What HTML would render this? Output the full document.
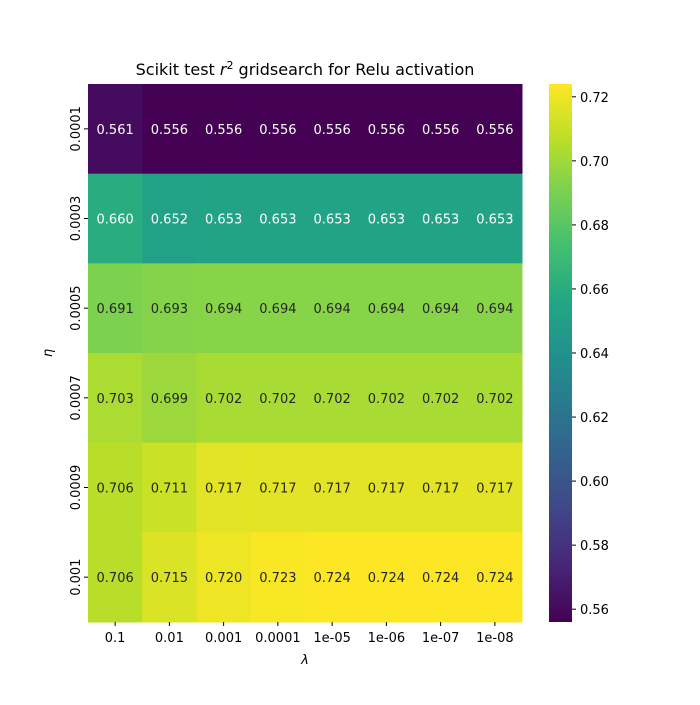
<!DOCTYPE html>
<html><head><meta charset="utf-8"><style>
html,body{margin:0;padding:0;background:#fff;}
svg text{font-family:"DejaVu Sans","Liberation Sans",sans-serif;}
</style></head><body>
<svg id="chart" width="700" height="700" viewBox="0 0 700 700" xmlns="http://www.w3.org/2000/svg">
<defs>
<linearGradient id="vir" x1="0" y1="1" x2="0" y2="0">
<stop offset="0" stop-color="#440154"/><stop offset="0.1" stop-color="#482475"/><stop offset="0.2" stop-color="#414487"/><stop offset="0.3" stop-color="#355f8d"/><stop offset="0.4" stop-color="#2a788e"/><stop offset="0.5" stop-color="#21918c"/><stop offset="0.6" stop-color="#22a884"/><stop offset="0.7" stop-color="#44bf70"/><stop offset="0.8" stop-color="#7ad151"/><stop offset="0.9" stop-color="#bddf26"/><stop offset="1" stop-color="#fde725"/>
</linearGradient>
</defs>
<text x="305" y="75" font-size="16" text-anchor="middle">Scikit test <tspan font-style="italic">r</tspan><tspan font-size="11" dy="-6">2</tspan><tspan dy="6"> gridsearch for Relu activation</tspan></text>
<g id="cells"></g>
<g id="xticks"></g>
<g id="yticks"></g>
<text x="305" y="664" font-size="13" font-style="italic" text-anchor="middle">λ</text>
<text x="52" y="353" font-size="13" font-style="italic" text-anchor="middle" transform="rotate(-90 52 353)">η</text>
<rect x="549" y="84" width="23" height="538" fill="url(#vir)"/>
<g id="cbticks"></g>
</svg>
<script>
const xLabels = ["0.1","0.01","0.001","0.0001","1e-05","1e-06","1e-07","1e-08"];
const yLabels = ["0.0001","0.0003","0.0005","0.0007","0.0009","0.001"];
const values = [
 [0.561,0.556,0.556,0.556,0.556,0.556,0.556,0.556],
 [0.660,0.652,0.653,0.653,0.653,0.653,0.653,0.653],
 [0.691,0.693,0.694,0.694,0.694,0.694,0.694,0.694],
 [0.703,0.699,0.702,0.702,0.702,0.702,0.702,0.702],
 [0.706,0.711,0.717,0.717,0.717,0.717,0.717,0.717],
 [0.706,0.715,0.720,0.723,0.724,0.724,0.724,0.724]
];
const cbTicks = [0.56,0.58,0.60,0.62,0.64,0.66,0.68,0.70,0.72];

const NS="http://www.w3.org/2000/svg";
const L=88,R=522,T=84,B=622;
const all=values.flat();
const vmin=Math.min(...all), vmax=Math.max(...all);
const cw=(R-L)/xLabels.length, ch=(B-T)/yLabels.length;
const xPos=i=>L+i*cw, yPos=j=>T+j*ch;
const cbY=v=>B-(v-vmin)/(vmax-vmin)*(B-T);
const stops=["#440154","#482475","#414487","#355f8d","#2a788e","#21918c","#22a884","#44bf70","#7ad151","#bddf26","#fde725"].map(h=>[1,3,5].map(k=>parseInt(h.substr(k,2),16)));
function vir(v){let t=Math.max(0,Math.min(1,(v-vmin)/(vmax-vmin)))*10;let i=Math.min(9,Math.floor(t)),f=t-i;
 return stops[i].map((c,k)=>Math.round(c+(stops[i+1][k]-c)*f));}
function lum(c){const s=c.map(x=>{x/=255;return x<=0.03928?x/12.92:Math.pow((x+0.055)/1.055,2.4)});return 0.2126*s[0]+0.7152*s[1]+0.0722*s[2];}
function mk(tag,attrs,parent){const e=document.createElementNS(NS,tag);for(const k in attrs)e.setAttribute(k,attrs[k]);parent.appendChild(e);return e;}
const cells=document.getElementById('cells');
values.forEach((row,j)=>row.forEach((v,i)=>{
 const c=vir(v);
 const r=mk('rect',{x:xPos(i),y:yPos(j),width:cw+0.5,height:ch+0.5,fill:`rgb(${c})`},cells);
 
 
 const t=mk('text',{x:xPos(i)+cw/2,y:yPos(j)+ch/2+5,'font-size':13,'text-anchor':'middle',fill:lum(c)<0.408?'#fff':'#262626'},cells);
 t.textContent=v.toFixed(3);
 
 
}));
const xt=document.getElementById('xticks');
xLabels.forEach((s,i)=>{const x=xPos(i)+cw/2;
 mk('line',{x1:x,x2:x,y1:B,y2:B+4,stroke:'#000'},xt);
 const t=mk('text',{x:x,y:B+20,'font-size':13,'text-anchor':'middle'},xt);t.textContent=s;
 
 });
const yt=document.getElementById('yticks');
yLabels.forEach((s,j)=>{const y=yPos(j)+ch/2;
 mk('line',{x1:L-4,x2:L,y1:y,y2:y,stroke:'#000'},yt);
 const t=mk('text',{x:L-12,y:y+4,'font-size':13,'text-anchor':'middle',transform:`rotate(-90 ${L-12} ${y})`},yt);
 t.textContent=s;
 
 });
const cb=document.getElementById('cbticks');
cbTicks.forEach(v=>{const y=cbY(v);
 mk('line',{x1:572,x2:576,y1:y,y2:y,stroke:'#000'},cb);
 const t=mk('text',{x:580,y:y+5,'font-size':13},cb);t.textContent=v.toFixed(2);
 
 });
</script>
</body></html>
